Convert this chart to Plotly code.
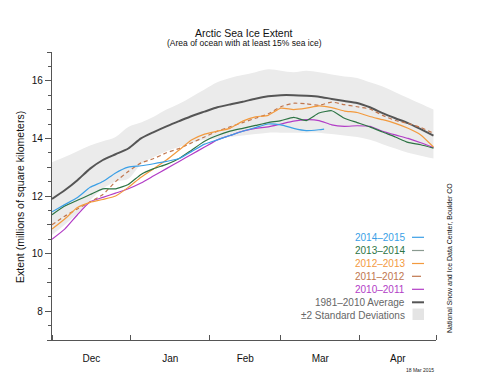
import plotly.graph_objects as go
from datetime import date, timedelta

# ---------------- data (days after 1 Dec, extent in millions of km^2) -------------
DAYS = [0, 5, 10, 15, 20, 25, 30, 35, 40, 45, 50, 55, 60, 65, 70, 75,
        80, 85, 90, 95, 100, 105, 110, 115, 120, 125, 130, 135, 140, 145, 150]
BLUE_DAYS = [0, 5, 10, 15, 20, 25, 30, 35, 40, 45, 50, 55, 60, 65, 70, 75,
             80, 85, 90, 95, 100, 105, 107]

AVG_1981_2010 = [11.9, 12.2, 12.55, 12.95, 13.25, 13.45, 13.65, 14.0, 14.22, 14.42, 14.6,
                 14.78, 14.93, 15.08, 15.18, 15.27, 15.38, 15.46, 15.5, 15.5, 15.48,
                 15.45, 15.37, 15.3, 15.23, 15.08, 14.88, 14.7, 14.53, 14.32, 14.1]
SD_UPPER = [13.17, 13.35, 13.55, 13.75, 13.9, 14.05, 14.4, 14.55, 14.75, 15.0, 15.2,
            15.45, 15.7, 15.95, 16.1, 16.2, 16.3, 16.4, 16.35, 16.3, 16.35,
            16.3, 16.22, 16.15, 16.1, 15.95, 15.8, 15.6, 15.4, 15.2, 15.0]
SD_LOWER = [10.65, 11.0, 11.4, 11.85, 12.25, 12.5, 12.6, 13.1, 13.35, 13.55, 13.7,
            13.85, 13.95, 14.0, 14.05, 14.1, 14.15, 14.2, 14.2, 14.2, 14.2,
            14.2, 14.15, 14.1, 14.05, 13.95, 13.8, 13.65, 13.5, 13.4, 13.3]

EXT_2014_2015 = [11.45, 11.7, 11.95, 12.3, 12.5, 12.8, 13.0, 13.05, 13.12, 13.2, 13.3,
                 13.55, 13.8, 13.95, 14.1, 14.25, 14.38, 14.5, 14.47, 14.35, 14.27,
                 14.3, 14.32]
EXT_2013_2014 = [11.35, 11.65, 11.85, 12.05, 12.25, 12.25, 12.4, 12.75, 12.95, 13.1, 13.3,
                 13.6, 13.9, 14.1, 14.25, 14.35, 14.45, 14.55, 14.62, 14.73, 14.62,
                 14.88, 14.96, 14.7, 14.55, 14.4, 14.22, 14.05, 13.86, 13.78, 13.66]
EXT_2012_2013 = [10.85, 11.2, 11.6, 11.78, 11.88, 12.0, 12.3, 12.65, 12.95, 13.25, 13.6,
                 13.95, 14.15, 14.25, 14.35, 14.6, 14.75, 14.8, 15.05, 15.0, 15.05,
                 15.13, 15.07, 14.95, 14.9, 14.76, 14.65, 14.52, 14.35, 14.12, 13.7]
EXT_2011_2012 = [11.0, 11.3, 11.55, 11.8, 12.05, 12.5, 12.85, 13.15, 13.3, 13.5, 13.65,
                 13.85, 14.05, 14.25, 14.4, 14.55, 14.7, 14.85, 15.1, 15.22, 15.2,
                 15.15, 15.26, 15.17, 15.1, 15.02, 14.8, 14.62, 14.52, 14.38, 14.18]
EXT_2010_2011 = [10.5, 10.85, 11.35, 11.8, 11.95, 12.1, 12.25, 12.45, 12.7, 12.95, 13.2,
                 13.45, 13.7, 13.95, 14.1, 14.25, 14.35, 14.4, 14.5, 14.6, 14.65,
                 14.62, 14.47, 14.42, 14.44, 14.42, 14.25, 14.12, 14.0, 13.85, 13.68]

SEASON_START = date(2014, 12, 1)
SEASON_END = date(2015, 5, 1)
Y_TICKS = [8, 10, 12, 14, 16]

C_BLUE = "#3a9fe6"
C_GREEN = "#2d7444"
C_ORANGE = "#f39a3e"
C_BROWN = "#c0764e"
C_MAGENTA = "#b23cc6"
C_AVG = "#555555"
C_SD = "#ebebeb"

FONT = "Liberation Sans, Arial, Helvetica, sans-serif"


def to_dates(days):
    return [SEASON_START + timedelta(days=d) for d in days]


X = to_dates(DAYS)
XB = to_dates(BLUE_DAYS)

# plot-area geometry (pixels) used to place legend/labels in paper coords
W, H = 480, 384
PL, PR, PT, PB = 52, 436, 52, 340


def px(x):
    return (x - PL) / (PR - PL)


def py(y):
    return (PB - y) / (PB - PT)


fig = go.Figure()
fig.add_trace(go.Scatter(x=X, y=SD_UPPER, mode="lines", line=dict(width=0, shape="spline"),
                         hoverinfo="skip", showlegend=False))
fig.add_trace(go.Scatter(x=X, y=SD_LOWER, mode="lines", line=dict(width=0, shape="spline"),
                         fill="tonexty", fillcolor=C_SD, hoverinfo="skip", showlegend=False))
fig.add_trace(go.Scatter(x=X, y=AVG_1981_2010, mode="lines",
                         line=dict(color=C_AVG, width=2, shape="spline", smoothing=0.6),
                         showlegend=False))
fig.add_trace(go.Scatter(x=X, y=EXT_2010_2011, mode="lines",
                         line=dict(color=C_MAGENTA, width=1.2, shape="spline", smoothing=0.5),
                         showlegend=False))
fig.add_trace(go.Scatter(x=X, y=EXT_2011_2012, mode="lines",
                         line=dict(color=C_BROWN, width=1.2, dash="4px,3px", shape="spline", smoothing=0.5),
                         showlegend=False))
fig.add_trace(go.Scatter(x=X, y=EXT_2012_2013, mode="lines",
                         line=dict(color=C_ORANGE, width=1.2, shape="spline", smoothing=0.5),
                         showlegend=False))
fig.add_trace(go.Scatter(x=X, y=EXT_2013_2014, mode="lines",
                         line=dict(color=C_GREEN, width=1.2, shape="spline", smoothing=0.5),
                         showlegend=False))
fig.add_trace(go.Scatter(x=XB, y=EXT_2014_2015, mode="lines",
                         line=dict(color=C_BLUE, width=1.2, shape="spline", smoothing=0.5),
                         showlegend=False))
# overlay axis for the integer minor ticks
fig.add_trace(go.Scatter(x=[X[0]], y=[7], yaxis="y2", mode="markers",
                         marker=dict(opacity=0), hoverinfo="skip", showlegend=False))

annotations = [
    dict(text="Arctic Sea Ice Extent", x=px(244), y=py(32.5), xref="paper", yref="paper",
         showarrow=False, font=dict(size=10.5, color="#111", family=FONT), xanchor="center", yanchor="middle"),
    dict(text="(Area of ocean with at least 15% sea ice)", x=px(244), y=py(43), xref="paper", yref="paper",
         showarrow=False, font=dict(size=8.5, color="#111", family=FONT), xanchor="center", yanchor="middle"),
    dict(text="Extent (millions of square kilometers)", x=px(20), y=py(197), xref="paper", yref="paper",
         showarrow=False, textangle=-90, font=dict(size=10.5, color="#111", family=FONT),
         xanchor="center", yanchor="middle"),
    dict(text="National Snow and Ice Data Center, Boulder CO", x=px(449), y=py(258), xref="paper", yref="paper",
         showarrow=False, textangle=-90, font=dict(size=7, color="#111", family=FONT),
         xanchor="center", yanchor="middle"),
    dict(text="18 Mar 2015", x=px(420), y=py(370), xref="paper", yref="paper",
         showarrow=False, font=dict(size=5, color="#222", family=FONT), xanchor="center", yanchor="middle"),
]

LEGEND_ITEMS = [
    ("2014\u20132015", C_BLUE, C_BLUE, "solid", 1.2),
    ("2013\u20132014", C_GREEN, "#8a9a90", "solid", 1.2),
    ("2012\u20132013", C_ORANGE, C_ORANGE, "solid", 1.2),
    ("2011\u20132012", C_BROWN, C_BROWN, "dash", 1.2),
    ("2010\u20132011", C_MAGENTA, C_MAGENTA, "solid", 1.2),
    ("1981\u20132010 Average", "#666666", C_AVG, "solid", 2),
]
LEG_Y = [237.3, 250.5, 263.5, 276.3, 289.3, 302.3]
shapes = []
for (label, tcol, lcol, dash, lw), yy in zip(LEGEND_ITEMS, LEG_Y):
    annotations.append(dict(text=label, x=px(407), y=py(yy), xref="paper", yref="paper",
                            showarrow=False, font=dict(size=10, color=tcol, family=FONT),
                            xanchor="right", yanchor="middle"))
    shapes.append(dict(type="line", xref="paper", yref="paper", x0=px(412), x1=px(424),
                       y0=py(yy), y1=py(yy), line=dict(color=lcol, width=lw, dash=dash)))
annotations.append(dict(text="\u00b12 Standard Deviations", x=px(407), y=py(315), xref="paper", yref="paper",
                        showarrow=False, font=dict(size=10, color="#666666", family=FONT),
                        xanchor="right", yanchor="middle"))
shapes.append(dict(type="rect", xref="paper", yref="paper", x0=px(412.5), x1=px(424),
                   y0=py(320), y1=py(308.5), fillcolor="#e4e4e4", line=dict(width=0)))

fig.update_layout(
    width=W, height=H,
    margin=dict(l=PL, r=W - PR, t=PT, b=H - PB),
    paper_bgcolor="white", plot_bgcolor="white",
    font=dict(family=FONT, color="#111", size=10),
    showlegend=False,
    annotations=annotations,
    shapes=shapes,
    xaxis=dict(type="date", range=[SEASON_START, SEASON_END], dtick="M1", tick0=SEASON_START,
               tickformat="%b", ticklabelmode="period", ticks="inside", ticklen=5, tickwidth=1,
               tickcolor=C_AVG, showline=True, linecolor=C_AVG, linewidth=1.2, showgrid=False,
               zeroline=False, ticklabelstandoff=9, tickfont=dict(size=10, color="#111")),
    yaxis=dict(range=[7, 17], tickmode="array", tickvals=Y_TICKS, ticks="outside", ticklen=6,
               tickwidth=1, tickcolor=C_AVG, showline=True, linecolor=C_AVG, linewidth=1.2,
               showgrid=False, zeroline=False, tickfont=dict(size=10, color="#111"),
               minor=dict(dtick=0.5, tick0=7, ticks="outside", ticklen=2.5, tickcolor=C_AVG)),
    yaxis2=dict(range=[7, 17], overlaying="y", side="left", anchor="x", tick0=7, dtick=1,
                ticks="outside", ticklen=4, tickcolor=C_AVG, showticklabels=False,
                showline=False, showgrid=False, zeroline=False),
)

fig.write_html("out.html", config={"displayModeBar": False},
               post_script="document.body.style.margin='0';")
